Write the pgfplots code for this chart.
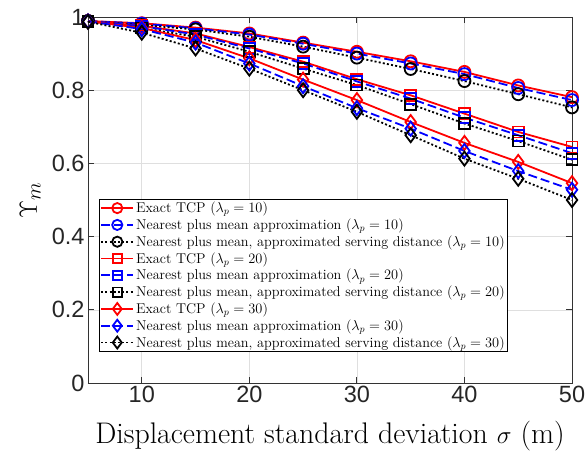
\documentclass[border=0pt]{standalone}
\usepackage{fontspec}
\usepackage{pgfplots}
\pgfplotsset{compat=1.18}
\newfontfamily\ticksf{Liberation Sans}
\pgfplotstableread{
x    ra     ba     ka     rb     bb     kb     rc     bc     kc
5    0.989  0.989  0.989  0.989  0.989  0.988  0.988  0.988  0.987
10   0.983  0.982  0.978  0.976  0.975  0.970  0.970  0.967  0.957
15   0.971  0.969  0.966  0.955  0.952  0.946  0.937  0.930  0.914
20   0.955  0.952  0.946  0.918  0.914  0.905  0.887  0.873  0.859
25   0.930  0.927  0.919  0.878  0.873  0.859  0.829  0.811  0.800
30   0.905  0.900  0.889  0.830  0.824  0.814  0.773  0.751  0.741
35   0.879  0.873  0.858  0.786  0.777  0.762  0.713  0.695  0.677
40   0.850  0.844  0.825  0.736  0.725  0.709  0.656  0.634  0.613
45   0.813  0.806  0.789  0.686  0.677  0.661  0.604  0.579  0.558
50   0.781  0.773  0.753  0.645  0.628  0.610  0.546  0.528  0.500
}\datatable
\begin{document}
\begin{tikzpicture}
\begin{axis}[
  at={(0,0)}, anchor=south west,
  width=484pt, height=366pt, scale only axis,
  xmin=5, xmax=50, ymin=0, ymax=1,
  xtick={10,20,30,40,50}, ytick={0,0.2,0.4,0.6,0.8,1},
  grid=major, major grid style={gray!25, line width=0.6pt},
  axis line style={black!80, line width=0.8pt},
  tick style={black!80, line width=0.8pt},
  tick align=inside, major tick length=6pt,
  ticklabel style={font=\fontsize{23.5}{23.5}\selectfont\ticksf, text=black!85},
  /pgf/number format/assume math mode=true,
  xlabel={Displacement standard deviation $\sigma$ (m)},
  xlabel style={font=\fontsize{29.8}{30}\selectfont, at={(axis description cs:0.5,0)}, anchor=base, yshift=-60pt},
  ylabel={$\Upsilon_m$},
  ylabel style={font=\fontsize{29.8}{30}\selectfont, at={(axis description cs:-0.1054,0.5)}, anchor=base},
  legend cell align=left,
  legend style={at={(0.0227,0.0847)}, anchor=south west, font=\fontsize{14.2}{15}\selectfont,
    draw=black, line width=0.8pt, inner sep=1pt, row sep=0.65pt},
  legend image code/.code={\draw[mark repeat=2,mark phase=2] plot coordinates {(0pt,0pt) (16pt,0pt) (32pt,0pt)};},
  legend image post style={every mark/.append style={scale=0.85}},
  every axis plot/.append style={line width=1.8pt},
]
\addplot[red, mark=o, mark size=6pt, mark options={solid}] table[x=x,y=ra] {\datatable};
\addlegendentry{Exact TCP ($\lambda_p=10$)}
\addplot[blue, dash pattern=on 9pt off 4pt, mark=o, mark size=6pt, mark options={solid}] table[x=x,y=ba] {\datatable};
\addlegendentry{Nearest plus mean approximation ($\lambda_p=10$)}
\addplot[black, dash pattern=on 2pt off 2.2pt, mark=o, mark size=6pt, mark options={solid}] table[x=x,y=ka] {\datatable};
\addlegendentry{Nearest plus mean, approximated serving distance ($\lambda_p=10$)}
\addplot[red, mark=square, mark size=5.5pt, mark options={solid}] table[x=x,y=rb] {\datatable};
\addlegendentry{Exact TCP ($\lambda_p=20$)}
\addplot[blue, dash pattern=on 9pt off 4pt, mark=square, mark size=5.5pt, mark options={solid}] table[x=x,y=bb] {\datatable};
\addlegendentry{Nearest plus mean approximation ($\lambda_p=20$)}
\addplot[black, dash pattern=on 2pt off 2.2pt, mark=square, mark size=5.5pt, mark options={solid}] table[x=x,y=kb] {\datatable};
\addlegendentry{Nearest plus mean, approximated serving distance ($\lambda_p=20$)}
\addplot[red, mark=diamond, mark size=7pt, mark options={solid}] table[x=x,y=rc] {\datatable};
\addlegendentry{Exact TCP ($\lambda_p=30$)}
\addplot[blue, dash pattern=on 9pt off 4pt, mark=diamond, mark size=7pt, mark options={solid}] table[x=x,y=bc] {\datatable};
\addlegendentry{Nearest plus mean approximation ($\lambda_p=30$)}
\addplot[black, dash pattern=on 2pt off 2.2pt, mark=diamond, mark size=7pt, mark options={solid}] table[x=x,y=kc] {\datatable};
\addlegendentry{Nearest plus mean, approximated serving distance ($\lambda_p=30$)}
\end{axis}
\pgfresetboundingbox
\useasboundingbox (-88pt,-69pt) rectangle (497pt,383pt);
\end{tikzpicture}
\end{document}
